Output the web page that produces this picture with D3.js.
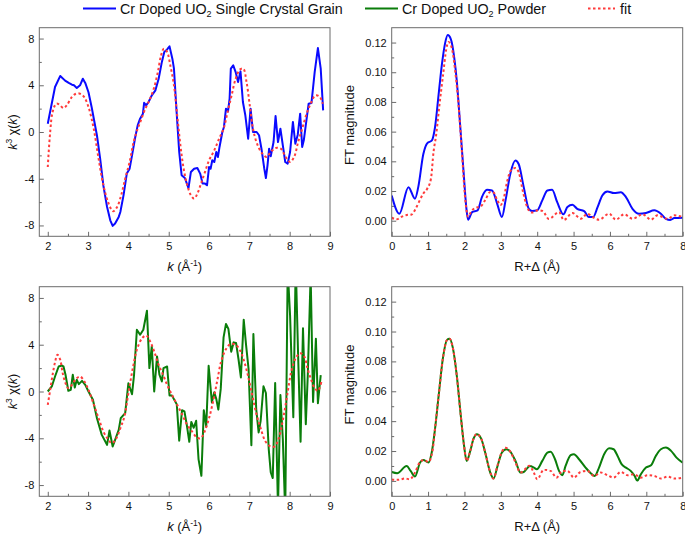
<!DOCTYPE html>
<html><head><meta charset="utf-8">
<script src="https://cdn.jsdelivr.net/npm/d3@7"></script>
<style>
body{margin:0;background:#fff;}
svg{display:block;font-family:"Liberation Sans",Arial,sans-serif;}
</style></head><body>
<svg id="c" width="685" height="535"></svg>
<script>
// ---------------- DATA ----------------
const seriesNames = ["Cr Doped UO2 Single Crystal Grain", "Cr Doped UO2 Powder", "fit"];
const kTicks = [2,3,4,5,6,7,8,9];
const chiTicks = [-8,-4,0,4,8];
const rTicks = [0,1,2,3,4,5,6,7,8];
const ftTicks = [0,0.02,0.04,0.06,0.08,0.10,0.12];

// Single crystal grain, k^3 chi(k)
const crystalChi = [[2.0,0.71],[2.18,3.85],[2.31,4.8],[2.43,4.4],[2.52,4.2],[2.6,4.05],[2.65,4.0],[2.72,3.77],[2.8,4.0],[2.87,4.56],[2.93,4.2],[3.01,3.4],[3.09,2.1],[3.22,-0.3],[3.3,-2.3],[3.38,-4.6],[3.47,-6.4],[3.55,-7.56],[3.61,-8.04],[3.67,-7.84],[3.76,-7.27],[3.8,-6.85],[3.88,-5.4],[3.96,-3.56],[4.03,-3.14],[4.09,-2.0],[4.17,-0.43],[4.23,0.57],[4.29,1.14],[4.36,1.57],[4.39,2.5],[4.44,2.28],[4.5,2.57],[4.58,3.14],[4.67,3.57],[4.75,4.56],[4.83,6.0],[4.89,6.85],[4.96,7.07],[5.02,7.33],[5.09,6.28],[5.13,5.42],[5.19,2.0],[5.26,-1.7],[5.32,-3.7],[5.4,-3.94],[5.49,-4.8],[5.55,-3.42],[5.63,-3.14],[5.71,-3.08],[5.78,-3.56],[5.84,-4.42],[5.9,-4.42],[5.95,-4.56],[6.0,-3.0],[6.04,-3.14],[6.08,-2.42],[6.13,-2.57],[6.18,-1.71],[6.22,-2.14],[6.26,-1.28],[6.33,0.0],[6.37,0.43],[6.42,2.0],[6.47,1.77],[6.51,2.85],[6.54,5.42],[6.6,5.7],[6.66,5.13],[6.72,4.28],[6.78,5.19],[6.84,2.57],[6.9,1.43],[6.97,-0.57],[7.03,2.0],[7.09,0.0],[7.18,0.0],[7.24,-0.28],[7.3,-1.43],[7.37,-3.14],[7.41,-3.94],[7.45,-2.85],[7.49,-1.43],[7.53,-2.08],[7.6,-0.86],[7.65,1.37],[7.71,-0.86],[7.77,0.28],[7.83,-1.14],[7.89,-2.57],[7.95,-2.71],[8.01,-1.71],[8.08,0.86],[8.14,-1.0],[8.2,-0.23],[8.26,1.57],[8.31,-1.28],[8.35,-0.71],[8.41,0.86],[8.47,2.42],[8.54,2.48],[8.62,5.13],[8.7,7.19],[8.77,5.42],[8.83,1.85]];
const crystalChiFit = [[2.0,-3.0],[2.06,0.0],[2.12,1.71],[2.21,2.42],[2.29,2.34],[2.39,2.05],[2.47,2.28],[2.6,3.0],[2.7,3.28],[2.8,3.28],[2.9,3.0],[3.01,2.14],[3.14,0.28],[3.26,-2.28],[3.38,-4.56],[3.51,-6.13],[3.62,-6.79],[3.72,-6.42],[3.82,-5.42],[3.92,-4.0],[4.03,-2.57],[4.13,-0.86],[4.23,0.28],[4.31,1.0],[4.42,2.0],[4.52,2.71],[4.63,3.71],[4.73,5.13],[4.81,6.56],[4.88,7.13],[4.96,6.85],[5.04,5.7],[5.13,4.0],[5.21,1.43],[5.29,-1.14],[5.37,-3.14],[5.46,-4.56],[5.55,-5.42],[5.63,-5.7],[5.71,-5.28],[5.8,-4.42],[5.9,-3.42],[6.0,-2.42],[6.13,-1.57],[6.25,-0.57],[6.36,0.28],[6.46,1.71],[6.56,3.14],[6.66,4.56],[6.77,5.36],[6.85,5.42],[6.93,4.28],[7.01,2.28],[7.09,0.28],[7.19,-1.0],[7.32,-1.85],[7.43,-2.14],[7.53,-1.71],[7.65,-1.37],[7.78,-1.43],[7.9,-2.14],[8.01,-2.57],[8.11,-2.14],[8.21,-0.86],[8.31,0.28],[8.42,1.57],[8.52,2.42],[8.64,3.14],[8.75,3.0],[8.82,2.42]];

// Powder, k^3 chi(k)
const powderChi = [[2.0,0.0],[2.1,0.43],[2.18,1.28],[2.27,2.14],[2.35,2.22],[2.39,2.14],[2.44,1.43],[2.51,0.06],[2.57,0.14],[2.62,1.43],[2.67,0.34],[2.72,1.0],[2.77,0.63],[2.85,0.91],[2.93,0.57],[3.01,0.0],[3.12,-0.71],[3.22,-2.28],[3.34,-3.71],[3.47,-4.56],[3.53,-3.34],[3.61,-4.7],[3.67,-4.14],[3.76,-3.28],[3.81,-2.28],[3.92,-1.85],[4.0,0.71],[4.09,-0.23],[4.14,1.43],[4.21,5.28],[4.29,4.85],[4.37,5.28],[4.46,6.9],[4.52,2.0],[4.58,3.85],[4.64,0.0],[4.71,3.0],[4.77,1.43],[4.83,0.86],[4.87,2.0],[4.96,2.14],[5.02,-0.34],[5.08,-0.34],[5.2,-1.1],[5.26,-4.2],[5.33,-1.6],[5.39,-1.7],[5.45,-2.9],[5.51,-4.3],[5.56,-2.6],[5.62,-3.1],[5.68,-2.5],[5.74,-5.8],[5.81,-7.2],[5.87,-1.6],[5.93,-3.0],[5.99,2.2],[6.07,-0.93],[6.13,-0.07],[6.18,-0.64],[6.23,-1.55],[6.29,0.22],[6.36,4.63],[6.42,5.78],[6.48,5.35],[6.55,3.4],[6.61,4.2],[6.67,4.15],[6.73,2.78],[6.79,1.2],[6.86,6.14],[6.92,3.92],[6.98,1.93],[7.05,-4.6],[7.1,4.92],[7.17,-1.5],[7.23,-3.5],[7.28,-2.5],[7.35,0.44],[7.41,-0.13],[7.48,-4.9],[7.53,-6.9],[7.58,-7.4],[7.64,0.73],[7.71,-10.0],[7.77,-0.3],[7.83,-4.06],[7.89,-10.5],[7.95,10.5],[8.01,6.5],[8.09,-2.2],[8.15,11.0],[8.21,3.0],[8.27,-4.3],[8.33,5.4],[8.4,-2.8],[8.45,1.5],[8.52,10.0],[8.58,-0.9],[8.65,4.5],[8.7,-1.0],[8.77,1.4]];
const powderChiFit = [[2.0,-1.14],[2.06,0.14],[2.12,1.43],[2.18,2.5],[2.24,3.14],[2.31,2.7],[2.37,1.57],[2.44,0.71],[2.51,0.28],[2.6,0.57],[2.7,1.08],[2.8,1.28],[2.9,0.91],[3.01,0.14],[3.13,-1.0],[3.26,-2.28],[3.38,-3.42],[3.48,-4.0],[3.59,-4.42],[3.7,-4.0],[3.8,-3.14],[3.9,-2.14],[4.0,-0.14],[4.11,2.0],[4.21,3.57],[4.34,4.56],[4.44,4.79],[4.54,4.28],[4.64,3.42],[4.75,2.28],[4.86,1.43],[4.96,0.57],[5.08,-0.28],[5.21,-1.14],[5.33,-1.94],[5.45,-2.8],[5.58,-3.42],[5.7,-3.94],[5.79,-4.0],[5.89,-3.42],[6.0,-2.28],[6.1,-0.86],[6.2,0.86],[6.3,2.57],[6.41,3.57],[6.53,4.05],[6.66,4.0],[6.76,3.57],[6.86,2.71],[6.96,1.43],[7.07,-0.28],[7.18,-2.0],[7.28,-3.14],[7.4,-4.28],[7.53,-4.7],[7.63,-4.7],[7.73,-4.0],[7.84,-2.28],[7.94,-0.28],[8.04,1.71],[8.15,2.85],[8.26,3.28],[8.36,3.0],[8.44,2.0],[8.52,1.14],[8.62,0.28],[8.7,0.06],[8.79,0.86]];

// Single crystal grain, FT magnitude
const crystalFT = [[0.0,0.017],[0.21,0.0047],[0.46,0.0226],[0.64,0.0148],[0.73,0.0226],[0.87,0.0449],[0.98,0.0523],[1.1,0.0539],[1.19,0.0628],[1.29,0.0851],[1.38,0.1053],[1.47,0.1198],[1.54,0.125],[1.63,0.122],[1.72,0.1097],[1.79,0.0941],[1.88,0.065],[1.98,0.0315],[2.05,0.0092],[2.1,0.0007],[2.21,0.0058],[2.36,0.007],[2.48,0.0159],[2.62,0.0208],[2.76,0.0204],[2.9,0.0114],[3.03,0.0025],[3.13,0.0137],[3.26,0.0315],[3.4,0.0405],[3.49,0.0382],[3.63,0.0226],[3.77,0.008],[3.86,0.0065],[4.0,0.007],[4.14,0.0137],[4.28,0.0204],[4.41,0.0208],[4.55,0.0125],[4.72,0.0043],[4.83,0.0092],[4.97,0.0107],[5.1,0.008],[5.29,0.0065],[5.42,0.0025],[5.54,0.0025],[5.66,0.0092],[5.79,0.017],[5.93,0.0197],[6.11,0.0186],[6.3,0.0192],[6.44,0.0159],[6.62,0.008],[6.8,0.0047],[6.99,0.0052],[7.22,0.007],[7.4,0.0047],[7.54,0.0013],[7.66,0.0005],[7.77,0.0018],[8.0,0.002]];
const crystalFTFit = [[0.0,0.002],[0.14,0.0009],[0.28,0.0027],[0.41,0.0038],[0.55,0.0042],[0.64,0.0072],[0.75,0.0127],[0.87,0.0183],[0.98,0.0217],[1.08,0.0284],[1.15,0.0463],[1.22,0.0574],[1.31,0.0775],[1.41,0.0977],[1.5,0.1155],[1.56,0.1204],[1.66,0.1155],[1.75,0.0999],[1.84,0.0775],[1.93,0.0463],[2.02,0.015],[2.1,0.0027],[2.18,0.006],[2.3,0.0087],[2.44,0.0094],[2.57,0.0139],[2.71,0.0194],[2.8,0.019],[2.9,0.0139],[2.99,0.0105],[3.08,0.015],[3.17,0.0261],[3.28,0.034],[3.4,0.0355],[3.49,0.0328],[3.61,0.0194],[3.72,0.0094],[3.85,0.0055],[4.03,0.007],[4.15,0.0065],[4.32,0.0012],[4.6,0.0058],[4.73,0.0005],[4.97,0.0052],[5.2,0.0013],[5.38,0.0047],[5.52,0.0025],[5.7,0.0007],[5.98,0.0047],[6.16,0.0007],[6.39,0.0043],[6.62,0.0013],[6.9,0.0043],[7.13,0.0007],[7.31,0.0036],[7.59,0.0013],[7.77,0.0036],[8.0,0.0025]];

// Powder, FT magnitude
const powderFT = [[0.0,0.006],[0.15,0.0052],[0.41,0.01],[0.52,0.0067],[0.64,0.0029],[0.78,0.0123],[0.87,0.014],[1.01,0.0123],[1.1,0.019],[1.19,0.0346],[1.29,0.0569],[1.41,0.0825],[1.52,0.0944],[1.59,0.0952],[1.68,0.0892],[1.79,0.0703],[1.9,0.0435],[1.99,0.0234],[2.06,0.0134],[2.16,0.0201],[2.25,0.0283],[2.34,0.0313],[2.46,0.0283],[2.57,0.019],[2.71,0.0056],[2.8,0.0016],[2.91,0.01],[3.03,0.019],[3.15,0.0212],[3.26,0.0196],[3.4,0.0135],[3.54,0.0056],[3.63,0.006],[3.8,0.01],[3.91,0.0089],[3.99,0.0078],[4.14,0.0134],[4.28,0.019],[4.37,0.0196],[4.49,0.0145],[4.6,0.0067],[4.69,0.0038],[4.78,0.01],[4.92,0.0172],[5.01,0.0179],[5.15,0.0145],[5.33,0.0089],[5.47,0.0052],[5.58,0.0033],[5.7,0.0089],[5.84,0.0179],[5.98,0.0219],[6.1,0.0212],[6.21,0.0167],[6.32,0.0112],[6.44,0.0089],[6.57,0.0067],[6.68,0.0033],[6.75,0.0002],[6.85,0.0045],[6.99,0.0089],[7.13,0.0105],[7.26,0.0167],[7.4,0.0212],[7.54,0.0223],[7.68,0.0201],[7.83,0.0156],[8.0,0.0122]];
const powderFTFit = [[0.0,0.001],[0.18,0.0007],[0.37,0.0016],[0.5,0.0011],[0.64,0.0056],[0.78,0.0127],[0.89,0.014],[1.01,0.0127],[1.13,0.0212],[1.19,0.0346],[1.29,0.0569],[1.41,0.0825],[1.52,0.0944],[1.59,0.0952],[1.68,0.0892],[1.79,0.0703],[1.9,0.0435],[1.99,0.0234],[2.06,0.0134],[2.16,0.0201],[2.25,0.0283],[2.34,0.0313],[2.46,0.0283],[2.57,0.019],[2.71,0.0056],[2.8,0.0016],[2.91,0.0105],[3.03,0.0195],[3.13,0.0222],[3.26,0.0196],[3.4,0.0125],[3.54,0.0056],[3.65,0.0075],[3.78,0.0102],[3.9,0.006],[4.0,0.0011],[4.18,0.0074],[4.37,0.0067],[4.53,0.0022],[4.69,0.0067],[4.83,0.0067],[5.01,0.0022],[5.19,0.006],[5.38,0.0067],[5.56,0.0033],[5.75,0.0056],[5.93,0.0038],[6.1,0.0022],[6.3,0.006],[6.48,0.0038],[6.66,0.0045],[6.85,0.0022],[7.03,0.0038],[7.22,0.0033],[7.4,0.0016],[7.59,0.0029],[7.77,0.0016],[8.0,0.0022]];

// ---------------- DRAW ----------------
const svg = d3.select("#c");
const BLUE = "#0a0aff", GREEN = "#0a7d0a", RED = "#ff3b3b", FRAME = "#6b6b6b";

const panels = [
  {id:"p1", x0:39.3, x1:330, y0:27.7, y1:236.3, xd:[1.79,9], yd:[-8.93,8.93], xt:kTicks, yt:chiTicks, xm:d3.range(2.5,9,1), ym:[-6,-2,2,6], kind:"chi", data:crystalChi, fit:crystalChiFit, color:BLUE},
  {id:"p2", x0:391.7, x1:682.7, y0:27.7, y1:236.3, xd:[0,8], yd:[-0.0105,0.13], xt:rTicks, yt:ftTicks, xm:d3.range(0.5,8,1), ym:[0.01,0.03,0.05,0.07,0.09,0.11], kind:"ft", data:crystalFT, fit:crystalFTFit, color:BLUE},
  {id:"p3", x0:39.3, x1:330, y0:286.7, y1:496.3, xd:[1.79,9], yd:[-8.96,8.96], xt:kTicks, yt:chiTicks, xm:d3.range(2.5,9,1), ym:[-6,-2,2,6], kind:"chi", data:powderChi, fit:powderChiFit, color:GREEN},
  {id:"p4", x0:391.7, x1:682.7, y0:286.7, y1:496.3, xd:[0,8], yd:[-0.0103,0.13], xt:rTicks, yt:ftTicks, xm:d3.range(0.5,8,1), ym:[0.01,0.03,0.05,0.07,0.09,0.11], kind:"ft", data:powderFT, fit:powderFTFit, color:GREEN}
];

const defs = svg.append("defs");

panels.forEach(p => {
  const x = d3.scaleLinear().domain(p.xd).range([p.x0, p.x1]);
  const y = d3.scaleLinear().domain(p.yd).range([p.y1, p.y0]);
  const g = svg.append("g");

  defs.append("clipPath").attr("id", "clip-" + p.id)
    .append("rect").attr("x", p.x0).attr("y", p.y0)
    .attr("width", p.x1 - p.x0).attr("height", p.y1 - p.y0);

  // axes (inward ticks)
  const fmt = p.kind === "ft" ? d3.format(".2f") : (d => String(d));
  const xa = g.append("g").attr("transform", `translate(0,${p.y1})`)
    .call(d3.axisBottom(x).tickValues(p.xt).tickSize(-4.5).tickPadding(6).tickFormat(d3.format("d")));
  const xam = g.append("g").attr("transform", `translate(0,${p.y1})`)
    .call(d3.axisBottom(x).tickValues(p.xm).tickSize(-2.5).tickFormat(""));
  const ya = g.append("g").attr("transform", `translate(${p.x0},0)`)
    .call(d3.axisLeft(y).tickValues(p.yt).tickSize(-4.5).tickPadding(5).tickFormat(fmt));
  const yam = g.append("g").attr("transform", `translate(${p.x0},0)`)
    .call(d3.axisLeft(y).tickValues(p.ym).tickSize(-2.5).tickFormat(""));
  [xa, xam, ya, yam].forEach(a => {
    a.select(".domain").remove();
    a.selectAll("line").attr("stroke", FRAME);
    a.selectAll("text").attr("font-size", 11).attr("fill", "#111")
      .attr("font-family", '"Liberation Sans",Arial,sans-serif');
  });

  // curves
  const plot = g.append("g").attr("clip-path", `url(#clip-${p.id})`);
  const dataCurve = p.kind === "ft" ? d3.curveMonotoneX : d3.curveLinear;
  const fitCurve = p.kind === "ft" ? d3.curveMonotoneX : d3.curveCatmullRom.alpha(0.5);
  const lineD = d3.line().x(d => x(d[0])).y(d => y(d[1])).curve(dataCurve);
  const lineF = d3.line().x(d => x(d[0])).y(d => y(d[1])).curve(fitCurve);
  plot.append("path").attr("d", lineD(p.data)).attr("fill", "none")
    .attr("stroke", p.color).attr("stroke-width", 2).attr("stroke-linejoin", "round");
  plot.append("path").attr("d", lineF(p.fit)).attr("fill", "none")
    .attr("stroke", RED).attr("stroke-width", 2).attr("stroke-dasharray", "2.5,2.5");

  // frame
  g.append("rect").attr("x", p.x0).attr("y", p.y0)
    .attr("width", p.x1 - p.x0).attr("height", p.y1 - p.y0)
    .attr("fill", "none").attr("stroke", FRAME).attr("stroke-width", 1);

  // axis titles
  const cx = (p.x0 + p.x1) / 2, cy = (p.y0 + p.y1) / 2;
  const xt = g.append("text").attr("x", cx).attr("y", p.y1 + 35)
    .attr("text-anchor", "middle").attr("font-size", 13).attr("fill", "#111");
  if (p.kind === "chi") {
    xt.append("tspan").attr("font-style", "italic").text("k");
    xt.append("tspan").text(" (Å");
    xt.append("tspan").attr("font-size", 8.5).attr("dy", -5).text("-1");
    xt.append("tspan").attr("dy", 5).text(")");
    const yt = g.append("text").attr("transform", `translate(${17},${cy}) rotate(-90)`)
      .attr("text-anchor", "middle").attr("font-size", 12.5).attr("fill", "#111");
    yt.append("tspan").attr("font-style", "italic").text("k");
    yt.append("tspan").attr("font-size", 8.5).attr("dy", -5).text("3");
    yt.append("tspan").attr("dy", 5).text(" χ(");
    yt.append("tspan").attr("font-style", "italic").text("k");
    yt.append("tspan").text(")");
  } else {
    xt.text("R+Δ (Å)");
    g.append("text").attr("transform", `translate(${354},${cy - 7}) rotate(-90)`)
      .attr("text-anchor", "middle").attr("font-size", 13).attr("fill", "#111")
      .text("FT magnitude");
  }
});

// legend
const legend = svg.append("g").attr("font-size", 14.3).attr("fill", "#111");
const legItems = [
  {x1:83, x2:116, tx:120, color:BLUE, dash:null, label:seriesNames[0]},
  {x1:365, x2:398, tx:402, color:GREEN, dash:null, label:seriesNames[1]},
  {x1:588, x2:615, tx:620, color:RED, dash:"2.5,2.5", label:seriesNames[2]}
];
legItems.forEach(it => {
  legend.append("line").attr("x1", it.x1).attr("x2", it.x2).attr("y1", 8.5).attr("y2", 8.5)
    .attr("stroke", it.color).attr("stroke-width", 2).attr("stroke-dasharray", it.dash);
  const t = legend.append("text").attr("x", it.tx).attr("y", 13.5);
  const m = it.label.match(/^(.*UO)2(.*)$/);
  if (m) {
    t.append("tspan").text(m[1]);
    t.append("tspan").attr("font-size", 9).attr("dy", 3).text("2");
    t.append("tspan").attr("dy", -3).text(m[2]);
  } else {
    t.text(it.label);
  }
});
</script></body></html>
